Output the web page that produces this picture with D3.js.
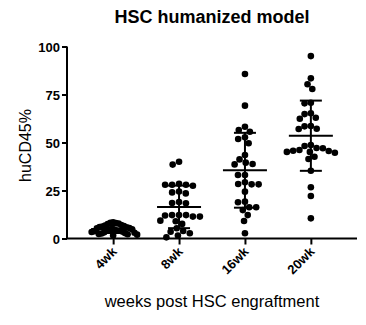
<!DOCTYPE html>
<html>
<head>
<meta charset="utf-8">
<script src="https://cdn.jsdelivr.net/npm/d3@7"></script>
<style>
  html, body { margin: 0; padding: 0; background: #fff; }
  svg { display: block; }
  text { font-family: Arial, "Liberation Sans", sans-serif; fill: #000; }
</style>
</head>
<body>
<svg id="chart" width="366" height="325"></svg>
<script>
// ---- data ----
const categories = ["4wk", "8wk", "16wk", "20wk"];
const wk4 = [8.5, 8.2, 8.0, 7.8, 7.5, 7.0, 6.8, 6.5, 6.2, 6.0, 5.8, 5.5, 5.3, 5.0, 4.8,
             4.6, 4.4, 4.2, 4.0, 3.8, 3.6, 3.4, 3.2, 3.0, 2.8, 2.6, 2.4, 2.2, 2.0, 1.5];
const wk8 = [40, 38.5, 28.5, 28, 27.5, 28, 28, 24.5, 24, 23.5, 19, 18.3, 18.5, 12.2, 11.4,
             12, 12.2, 11.4, 12.2, 9.3, 9, 7.6, 5.3, 3.9, 3.5, 0.6, 1.5, 2.7];
const wk16 = [85.7, 69.2, 58.2, 56.5, 55.6, 51.8, 52.7, 49.6, 43.5, 41.2, 38.8, 38.6, 39.5, 33.1,
              33.1, 28.4, 28.2, 29.3, 28.2, 24.4, 19.2, 16.3, 14.8, 16.3, 18.9, 12.2, 9.1, 2.7];
const wk20 = [95, 83.4, 80.3, 77.9, 70.7, 70.4, 64.8, 62.4, 62.9, 65.2, 58.6, 57, 57.2, 58.4,
              48.7, 47, 47.1, 48.2, 45.7, 44.7, 45.6, 46.1, 45.1, 45.1, 42.6, 41.4, 35.3, 26.7, 22.1, 10.5];
const seriesValues = [wk4, wk8, wk16, wk20];
const yTicks = [0, 25, 50, 75, 100];
const titleText = "HSC humanized model";
const xLabel = "weeks post HSC engraftment";
const yLabel = "huCD45%";

// ---- layout ----
const svg = d3.select("#chart");
const mLeft = 67, mRight = 357, mTop = 46.5, mBottom = 238.5;

const x = d3.scalePoint().domain(categories).range([mLeft, mRight]).padding(0.7);
const y = d3.scaleLinear().domain([0, 100]).range([mBottom, mTop]);

// title
svg.append("text").attr("x", (mLeft + mRight) / 2).attr("y", 23)
  .attr("text-anchor", "middle").style("font-weight", "bold").style("font-size", "18px")
  .text(titleText);

// y axis
const yAxis = svg.append("g").attr("transform", `translate(${mLeft},0)`)
  .call(d3.axisLeft(y).tickValues(yTicks).tickSize(5).tickPadding(2).tickFormat(d3.format("d")));
yAxis.select(".domain").attr("stroke", "#000").attr("stroke-width", 2).attr("d", `M0,${mBottom}V${mTop}`);
yAxis.selectAll(".tick line").attr("stroke", "#000").attr("stroke-width", 2);
yAxis.selectAll(".tick text").style("font-size", "13px").style("font-weight", "bold")
  .attr("font-family", null).attr("dy", "0.35em");

// x axis
const xAxis = svg.append("g").attr("transform", `translate(0,${mBottom})`)
  .call(d3.axisBottom(x).tickSize(6).tickSizeOuter(0));
xAxis.select(".domain").attr("stroke", "#000").attr("stroke-width", 2).attr("d", `M${mLeft},0H${mRight}`);
xAxis.selectAll(".tick line").attr("stroke", "#000").attr("stroke-width", 2);
xAxis.selectAll(".tick text")
  .attr("font-family", null)
  .style("font-size", "13px").style("font-weight", "bold")
  .attr("text-anchor", "end")
  .attr("dy", null).attr("y", 0)
  .attr("transform", "translate(4,14) rotate(-45)");

// axis labels
svg.append("text").attr("x", (mLeft + mRight) / 2).attr("y", 307)
  .attr("text-anchor", "middle").style("font-size", "16.5px").text(xLabel);
svg.append("text").attr("transform", `translate(31,${(mTop + mBottom) / 2 + 3}) rotate(-90)`)
  .attr("text-anchor", "middle").style("font-size", "16px").text(yLabel);

// beeswarm layout
function swarm(vals, d, maxHalf) {
  const pts = vals.map(v => ({ v, py: y(v), dx: 0 })).sort((a, b) => a.py - b.py);
  const placed = [];
  for (const p of pts) {
    const iv = [];
    for (const q of placed) {
      const dy = Math.abs(q.py - p.py);
      if (dy < d) { const w = Math.sqrt(d * d - dy * dy); iv.push([q.dx - w, q.dx + w]); }
    }
    const cands = [0];
    iv.forEach(([a, b]) => cands.push(a, b));
    cands.sort((a, b) => Math.abs(a) - Math.abs(b) || a - b);
    for (const c of cands) {
      if (iv.every(([a, b]) => c <= a + 1e-6 || c >= b - 1e-6)) { p.dx = c; break; }
    }
    placed.push(p);
  }
  const m = d3.max(placed, p => Math.abs(p.dx));
  if (m > maxHalf) placed.forEach(p => p.dx *= maxHalf / m);
  return placed;
}

const r = 3.3;
seriesValues.forEach((vals, i) => {
  const cx = x(categories[i]);
  const g = svg.append("g");
  const pts = swarm(vals, 7, 24);
  g.selectAll("circle").data(pts).join("circle")
    .attr("cx", p => cx + p.dx).attr("cy", p => p.py).attr("r", r).attr("fill", "#000");

  const mean = d3.mean(vals), sd = d3.deviation(vals);
  const lo = Math.max(0, mean - sd), hi = mean + sd;
  const eg = svg.append("g").attr("stroke", "#000").attr("stroke-width", 2);
  eg.append("line").attr("x1", cx).attr("x2", cx).attr("y1", y(lo)).attr("y2", y(hi));
  eg.append("line").attr("x1", cx - 22).attr("x2", cx + 22).attr("y1", y(mean)).attr("y2", y(mean));
  eg.append("line").attr("x1", cx - 11).attr("x2", cx + 11).attr("y1", y(hi)).attr("y2", y(hi));
  eg.append("line").attr("x1", cx - 11).attr("x2", cx + 11).attr("y1", y(lo)).attr("y2", y(lo));
});
</script>
</body>
</html>
